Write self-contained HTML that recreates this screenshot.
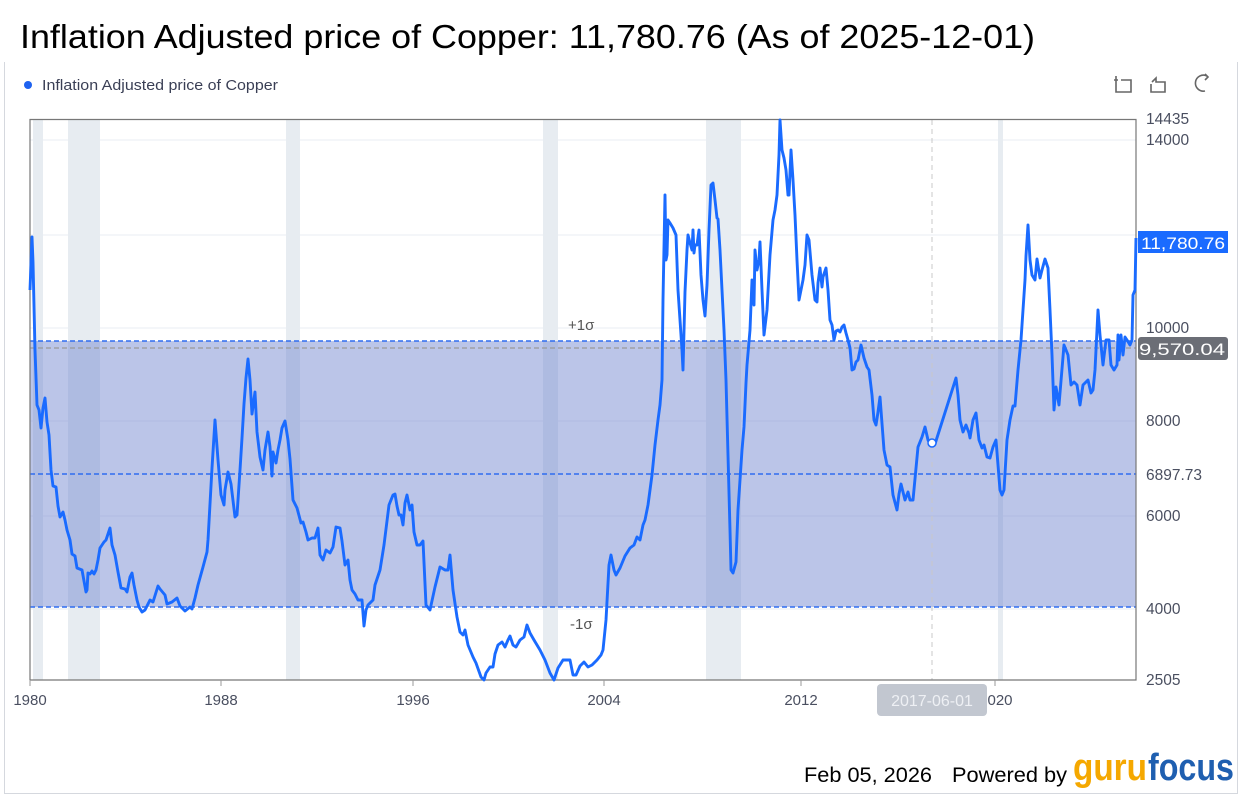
<!DOCTYPE html>
<html><head><meta charset="utf-8"><style>
body{margin:0;width:1242px;height:798px;background:#fff;overflow:hidden;font-family:"Liberation Sans",sans-serif;}
</style></head><body>
<svg width="1242" height="798" xmlns="http://www.w3.org/2000/svg" font-family="Liberation Sans, sans-serif">
<rect x="0" y="0" width="1242" height="798" fill="#fff"/>
<path d="M4.5 62 V793.5 H1237.5 V62" fill="none" stroke="#d5d8de" stroke-width="1"/>
<text x="20" y="48" font-size="33" fill="#000" textLength="1015" lengthAdjust="spacingAndGlyphs">Inflation Adjusted price of Copper: 11,780.76 (As of 2025-12-01)</text>
<circle cx="28" cy="85" r="4" fill="#1e62f0"/>
<text x="42" y="90" font-size="15" fill="#3a3f55" textLength="236" lengthAdjust="spacingAndGlyphs">Inflation Adjusted price of Copper</text>
<g stroke="#666" stroke-width="1.6" fill="none">
<path d="M1114 80 H1118 M1116 76 V92 H1131 V80 H1121"/>
<path d="M1152 82 L1156 78 V82 H1165 V92 H1151 V84"/>
<path d="M1207 76 A8 8 0 1 0 1205 91 M1205 74 L1208 77 L1205 80"/>
</g>
<g stroke="#edf0f5" stroke-width="1.2">
<line x1="30" y1="140" x2="1136" y2="140"/><line x1="30" y1="235" x2="1136" y2="235"/>
<line x1="30" y1="328" x2="1136" y2="328"/><line x1="30" y1="421" x2="1136" y2="421"/>
<line x1="30" y1="516" x2="1136" y2="516"/><line x1="30" y1="609" x2="1136" y2="609"/>
</g>
<g fill="#e7ecf1">
<rect x="33" y="120" width="10" height="560"/><rect x="68" y="120" width="32" height="560"/>
<rect x="286" y="120" width="14" height="560"/><rect x="543" y="120" width="15" height="560"/>
<rect x="706" y="120" width="35" height="560"/><rect x="998" y="120" width="5" height="560"/>
</g>
<rect x="30" y="341" width="1106" height="266" fill="#7085cf" fill-opacity="0.48"/>
<line x1="932" y1="120" x2="932" y2="680" stroke="#c8c8c8" stroke-dasharray="5,4"/>
<line x1="30" y1="341" x2="1136" y2="341" stroke="#2f6df0" stroke-width="1.4" stroke-dasharray="5,3"/>
<line x1="30" y1="348" x2="1136" y2="348" stroke="#999" stroke-width="1.2" stroke-dasharray="5,3"/>
<line x1="30" y1="474" x2="1136" y2="474" stroke="#2f6df0" stroke-width="1.4" stroke-dasharray="5,3"/>
<line x1="30" y1="607" x2="1136" y2="607" stroke="#2f6df0" stroke-width="1.4" stroke-dasharray="5,3"/>
<text x="568" y="330" font-size="15" fill="#555">+1σ</text>
<text x="570" y="629" font-size="15" fill="#555">-1σ</text>
<path d="M30 680 V119.5 H1136 V680 H30" fill="none" stroke="#777" stroke-width="1.2"/>
<path fill="none" stroke="#1a6bff" stroke-width="2.9" stroke-linejoin="round" d="M30 290 L32 237 L33 262 L35 350 L37 405 L39 410 L41 428 L43 408 L45 398 L47 422 L49 435 L51 470 L53 486 L56 487 L58 506 L60 517 L63 512 L65 520 L67 530 L70 540 L72 554 L75 556 L77 568 L82 570 L86 592 L87 590 L88 573 L90 574 L92 571 L94 574 L96 570 L98 560 L100 548 L104 542 L106 540 L110 528 L112 545 L115 555 L118 572 L121 588 L125 589 L127 592 L130 577 L132 573 L134 585 L137 600 L139 607 L142 612 L145 610 L150 600 L153 602 L158 586 L160 589 L165 595 L167 604 L172 602 L177 598 L180 606 L185 611 L190 607 L192 609 L195 598 L198 585 L203 567 L207 552 L208 540 L212 468 L215 420 L218 460 L221 495 L224 505 L225 490 L228 472 L231 484 L235 517 L237 515 L240 470 L242 438 L244 404 L246 378 L248 359 L250 380 L252 414 L255 392 L257 432 L260 457 L263 470 L265 450 L268 432 L270 447 L272 476 L273 452 L276 463 L278 450 L280 440 L282 428 L285 421 L288 440 L290 459 L293 500 L297 508 L301 523 L303 522 L306 532 L308 540 L312 538 L315 538 L318 528 L320 555 L323 560 L326 550 L330 553 L333 547 L336 527 L340 528 L342 541 L345 565 L348 560 L350 580 L352 590 L355 594 L358 600 L362 600 L364 626 L366 610 L368 605 L373 600 L375 585 L377 579 L380 570 L384 545 L389 505 L393 495 L395 494 L397 506 L399 515 L401 515 L403 525 L405 503 L407 495 L410 510 L412 505 L414 532 L417 545 L420 545 L423 541 L426 605 L430 610 L435 587 L440 567 L445 570 L448 570 L450 555 L453 590 L457 617 L460 632 L463 635 L465 630 L468 645 L473 657 L476 663 L481 677 L484 680 L486 673 L488 670 L490 667 L493 667 L495 654 L498 645 L502 642 L505 647 L508 640 L510 636 L513 645 L516 647 L520 640 L524 637 L527 625 L530 633 L534 640 L540 650 L545 660 L550 673 L554 680 L558 668 L563 660 L567 660 L570 660 L573 675 L576 675 L580 666 L584 662 L588 667 L592 665 L597 660 L601 655 L603 650 L606 620 L609 565 L611 555 L614 570 L616 575 L620 568 L625 556 L630 548 L634 545 L637 537 L640 540 L643 525 L645 520 L648 505 L652 475 L655 445 L658 420 L660 405 L662 380 L663 300 L665 195 L666 260 L667 255 L668 220 L670 223 L673 228 L676 235 L678 290 L680 320 L682 350 L683 370 L685 292 L687 250 L688 235 L690 243 L692 250 L693 230 L694 253 L695 245 L697 245 L699 230 L701 275 L703 300 L705 316 L707 285 L709 230 L711 185 L713 183 L715 200 L717 218 L718 219 L720 250 L722 290 L724 330 L726 380 L728 455 L730 530 L731 570 L733 573 L736 562 L738 510 L740 480 L742 450 L744 427 L746 383 L747 365 L750 330 L752 280 L754 305 L755 250 L757 270 L759 260 L760 242 L762 290 L764 335 L767 310 L770 255 L773 220 L775 210 L777 195 L779 155 L780 120 L782 150 L784 158 L786 170 L788 195 L789 195 L791 150 L793 180 L795 215 L797 260 L799 300 L801 290 L803 280 L805 265 L807 235 L809 240 L812 275 L815 300 L817 302 L818 283 L820 268 L822 287 L823 277 L826 268 L828 290 L830 320 L832 325 L834 340 L836 331 L838 330 L840 332 L842 327 L844 325 L846 333 L848 340 L850 348 L852 370 L854 369 L856 362 L858 360 L861 345 L864 358 L867 367 L869 370 L872 395 L874 420 L876 425 L878 412 L880 397 L884 450 L887 465 L890 467 L893 495 L897 510 L899 494 L901 484 L905 500 L908 492 L910 500 L913 500 L918 447 L922 437 L925 427 L928 440 L931 446 L935 444 L956 378 L958 395 L960 420 L963 432 L966 425 L969 433 L970 438 L973 420 L976 413 L979 440 L982 448 L984 445 L987 457 L990 458 L993 447 L996 440 L998 465 L1000 490 L1002 495 L1004 490 L1007 440 L1010 420 L1013 406 L1015 406 L1018 370 L1021 340 L1023 310 L1025 280 L1026 256 L1028 225 L1030 260 L1032 275 L1035 280 L1037 259 L1040 278 L1042 270 L1045 259 L1048 268 L1050 310 L1052 355 L1054 410 L1056 387 L1059 405 L1064 345 L1068 355 L1071 385 L1074 382 L1077 385 L1080 405 L1083 385 L1088 380 L1091 393 L1093 390 L1095 370 L1098 310 L1100 335 L1103 365 L1106 340 L1109 340 L1111 365 L1114 370 L1117 365 L1118 335 L1119 360 L1121 335 L1123 355 L1125 337 L1127 340 L1130 345 L1132 340 L1133 295 L1135 290 L1136 238"/>
<circle cx="932" cy="443" r="4" fill="#fff" stroke="#1a6bff" stroke-width="1.5"/>
<g font-size="15.5" fill="#4a4f60">
<text x="1146" y="124">14435</text><text x="1146" y="145">14000</text>
<text x="1146" y="333">10000</text><text x="1146" y="426">8000</text>
<text x="1146" y="480">6897.73</text><text x="1146" y="521">6000</text>
<text x="1146" y="614">4000</text><text x="1146" y="685">2505</text>
</g>
<rect x="1138" y="231" width="90" height="22" fill="#1a6bff"/>
<text x="1141" y="249" font-size="17" fill="#fff" textLength="84" lengthAdjust="spacingAndGlyphs">11,780.76</text>
<rect x="1138" y="337" width="90" height="23" rx="3" fill="#6b6e76"/>
<text x="1139" y="355" font-size="17" fill="#fff" textLength="86" lengthAdjust="spacingAndGlyphs">9,570.04</text>
<g stroke="#999"><line x1="30" y1="680" x2="30" y2="686"/><line x1="221" y1="680" x2="221" y2="686"/><line x1="413" y1="680" x2="413" y2="686"/><line x1="604" y1="680" x2="604" y2="686"/><line x1="801" y1="680" x2="801" y2="686"/><line x1="995" y1="680" x2="995" y2="686"/></g>
<g font-size="15" fill="#4a4f60" text-anchor="middle">
<text x="30" y="705">1980</text><text x="221" y="705">1988</text><text x="413" y="705">1996</text>
<text x="604" y="705">2004</text><text x="801" y="705">2012</text><text x="1000" y="705">020</text>
</g>
<rect x="877" y="684" width="110" height="32" rx="4" fill="#c2c7d0"/>
<text x="932" y="706" font-size="16" fill="#eef0f4" text-anchor="middle">2017-06-01</text>
<text x="804" y="782" font-size="21" fill="#000" textLength="128" lengthAdjust="spacingAndGlyphs">Feb 05, 2026</text>
<text x="952" y="782" font-size="21" fill="#000" textLength="115" lengthAdjust="spacingAndGlyphs">Powered by</text>
<text x="1073" y="780" font-size="38" font-weight="bold" fill="#f5a800" textLength="74" lengthAdjust="spacingAndGlyphs">guru</text>
<text x="1148" y="780" font-size="38" font-weight="bold" fill="#1f5fb0" textLength="86" lengthAdjust="spacingAndGlyphs">focus</text>
</svg>
</body></html>
